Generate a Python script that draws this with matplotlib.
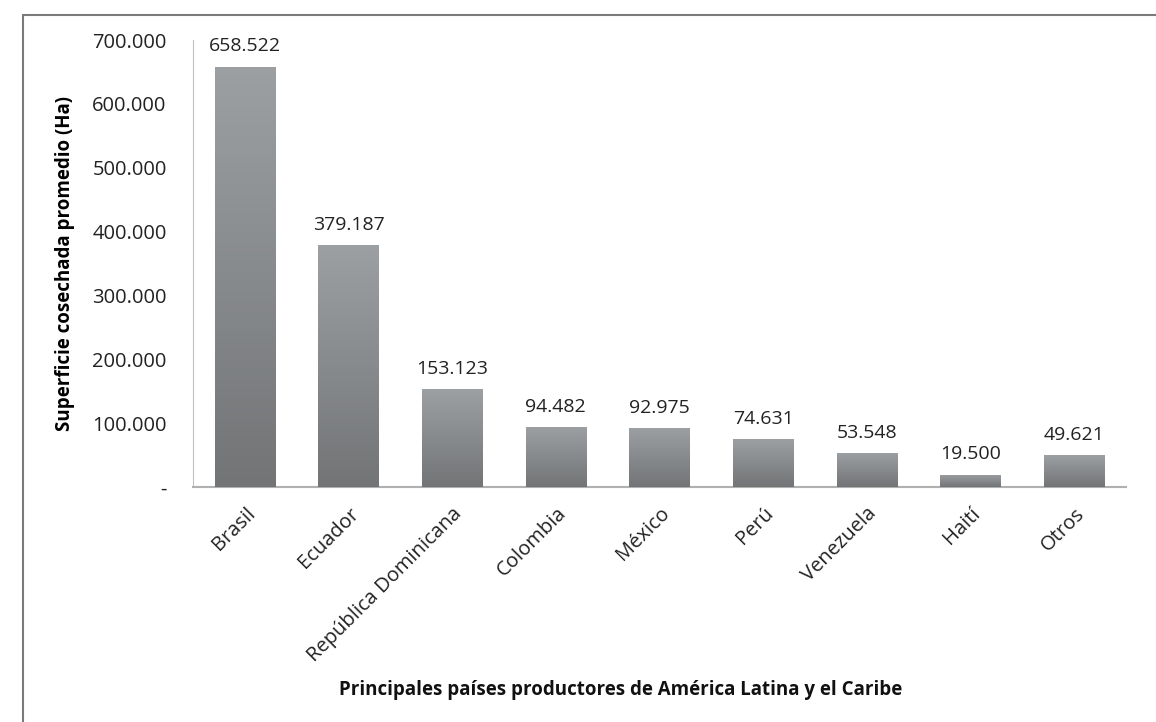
import numpy as np
import matplotlib.pyplot as plt
from matplotlib.colors import LinearSegmentedColormap
from matplotlib.ticker import FuncFormatter
from matplotlib.patches import Rectangle

paises = ['Brasil', 'Ecuador', 'República Dominicana', 'Colombia', 'México',
          'Perú', 'Venezuela', 'Haití', 'Otros']
superficie = [658522, 379187, 153123, 94482, 92975, 74631, 53548, 19500, 49621]
yticks = [0, 100000, 200000, 300000, 400000, 500000, 600000, 700000]

plt.rcParams['font.family'] = ['Open Sans', 'DejaVu Sans']

fig = plt.figure(figsize=(11.56, 7.22), dpi=100)
ax = fig.add_axes([0.167, 0.3255, 0.807, 0.619])

x = np.arange(len(paises))
bars = ax.bar(x, superficie, width=0.58, color='#8a8d90', edgecolor='none', zorder=2)

# gradient fill clipped to each bar
cmap = LinearSegmentedColormap.from_list('g', ['#727476', '#9da0a3'])
grad = np.linspace(0, 1, 256).reshape(-1, 1)
for b in bars:
    im = ax.imshow(grad, cmap=cmap, aspect='auto', origin='lower',
                   extent=[b.get_x(), b.get_x() + b.get_width(), 0, b.get_height()],
                   zorder=3)
    im.set_clip_path(b)

for xi, v in zip(x, superficie):
    ax.annotate(f'{v:,}'.replace(',', '.'), (xi, v), xytext=(0, 8),
                textcoords='offset points', ha='center', va='bottom',
                fontsize=14, color='#222222')

ax.set_xlim(-0.5, len(paises) - 0.5)
ax.set_ylim(0, 700000)
ax.set_yticks(yticks)
ax.yaxis.set_major_formatter(FuncFormatter(
    lambda v, p: '-' if v == 0 else f'{int(v):,}'.replace(',', '.')))
ax.set_xticks(x)
ax.set_xticklabels(paises, rotation=45, ha='right', rotation_mode='anchor',
                   fontsize=14.5)
ax.tick_params(axis='both', length=0, colors='#222222')
ax.tick_params(axis='y', labelsize=14.5, pad=19)
ax.tick_params(axis='x', pad=12)

for s in ['top', 'right']:
    ax.spines[s].set_visible(False)
ax.spines['left'].set_color('#c0c0c0')
ax.spines['bottom'].set_color('#b0b0b0')
ax.spines['bottom'].set_linewidth(1.5)

ax.set_ylabel('Superficie cosechada promedio (Ha)', fontsize=13.5,
              fontweight='bold', labelpad=12)
fig.text(0.537, 0.045, 'Principales países productores de América Latina y el Caribe',
         ha='center', va='center', fontsize=13.5, fontweight='bold', color='#111111')

# outer frame
fig.patches.append(Rectangle((0.0195, -0.05), 1.2, 1.029, transform=fig.transFigure,
                             fill=False, edgecolor='#7a7a7a', linewidth=1.5))

fig.savefig('out.png', dpi=100)
